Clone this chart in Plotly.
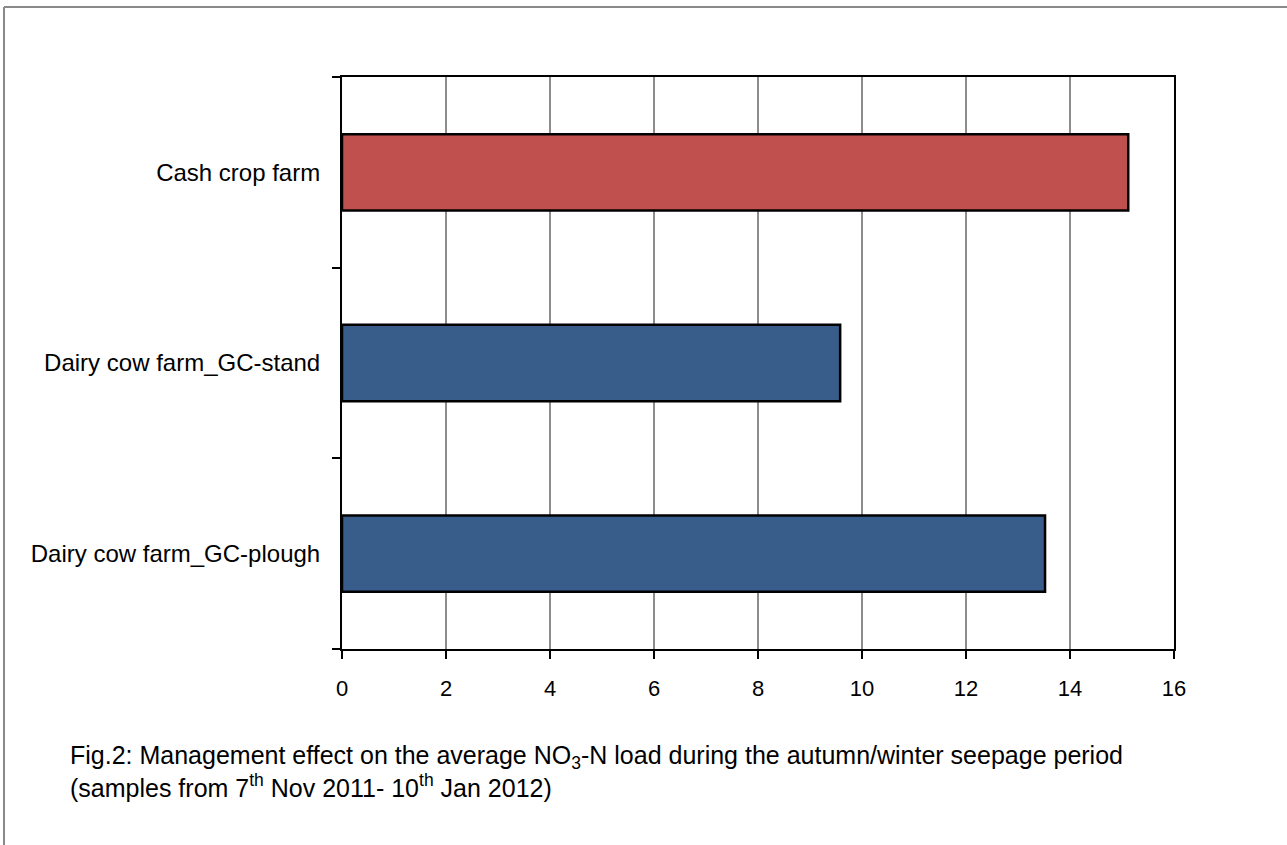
import plotly.graph_objects as go

categories = ["Cash crop farm", "Dairy cow farm_GC-stand", "Dairy cow farm_GC-plough"]
values = [15.12, 9.58, 13.52]
bar_colors = ["#C0504D", "#385D8A", "#385D8A"]
x_ticks = [0, 2, 4, 6, 8, 10, 12, 14, 16]

W, H = 1287, 845
L, R, T, B = 342, 113, 77, 196
pw, ph = W - L - R, H - T - B

fig = go.Figure(go.Bar(
    y=categories, x=values, orientation="h",
    marker=dict(color=bar_colors, line=dict(color="black", width=2.5)),
    width=0.4,
))

fig.update_layout(
    width=W, height=H,
    margin=dict(l=L, r=R, t=T, b=B, pad=0),
    paper_bgcolor="white", plot_bgcolor="white",
    font=dict(family="Liberation Sans, Arial, sans-serif", color="black"),
    showlegend=False,
    bargap=0.6,
)
fig.update_xaxes(
    range=[0, 16], tickvals=x_ticks, showgrid=True, gridcolor="#8c8c8c", gridwidth=2,
    showline=True, linecolor="black", linewidth=2, mirror=True,
    ticks="outside", ticklen=8, tickwidth=2, tickcolor="black",
    tickfont=dict(size=22), ticklabelstandoff=11, zeroline=False,
)
fig.update_yaxes(
    categoryorder="array", categoryarray=categories[::-1],
    showline=True, linecolor="black", linewidth=2, mirror=True,
    ticks="outside", ticklen=8, tickwidth=2, tickcolor="black", tickson="boundaries",
    tickfont=dict(size=24), ticklabelstandoff=15, showgrid=False,
)

# outer frame (gray border at top and left)
fx = (4 - L) / pw
fy = 1 + (T - 7) / ph
fig.add_shape(type="line", xref="paper", yref="paper", x0=fx, x1=2, y0=fy, y1=fy,
              line=dict(color="#8a8a8a", width=2))
fig.add_shape(type="line", xref="paper", yref="paper", x0=fx, x1=fx, y0=fy, y1=-1,
              line=dict(color="#8a8a8a", width=2))

fig.add_annotation(
    xref="paper", yref="paper", x=(68 - L) / pw, y=1 - (771 - T) / ph,
    xanchor="left", yanchor="middle", align="left", showarrow=False,
    text="Fig.2: Management effect on the average NO<sub>3</sub>-N load during the autumn/winter seepage period<br>"
         "(samples from 7<sup>th</sup> Nov 2011- 10<sup>th</sup> Jan 2012)",
    font=dict(size=25, color="black"),
)

fig.write_html("out.html", config={"displayModeBar": False},
               post_script="document.body.style.margin='0';")
